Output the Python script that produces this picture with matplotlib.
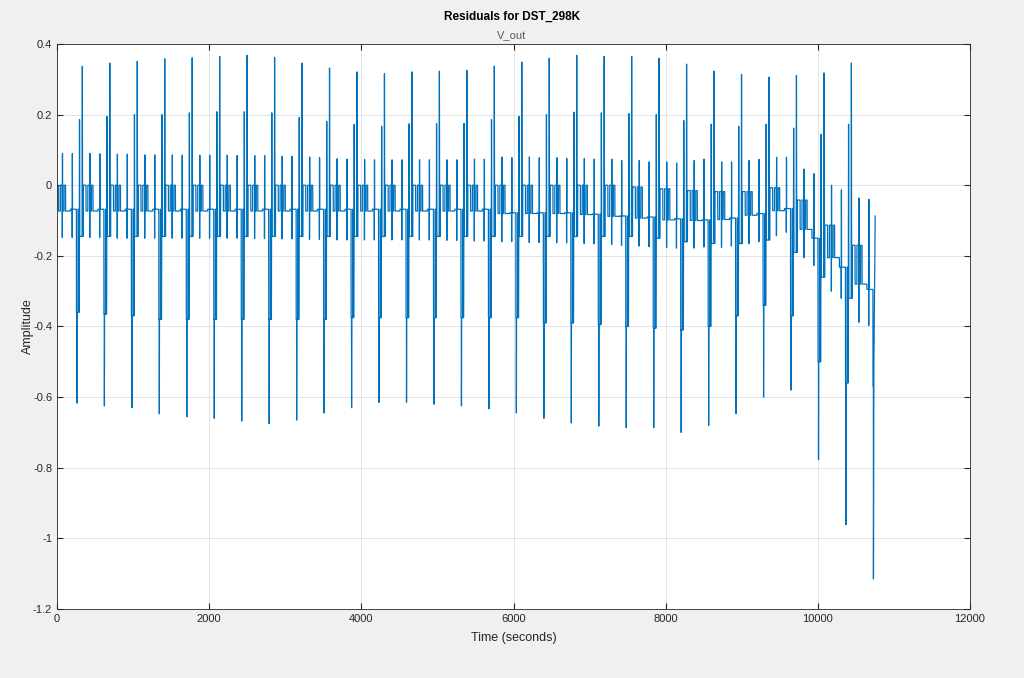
import numpy as np
import matplotlib.pyplot as plt

plt.rcParams['font.family'] = ['Liberation Sans', 'DejaVu Sans']
plt.rcParams['axes.unicode_minus'] = False

# one DST cycle, seconds
period = 361

# per-cycle levels (30 cycles, last one cut short)
top = [0.0] * 21 + [-0.005, -0.01, -0.015, -0.018, -0.018, -0.007, -0.042, -0.113, -0.17]
base_s = [-0.073] * 16 + [-0.08, -0.08, -0.08, -0.083, -0.088, -0.093, -0.098, -0.1,
                          -0.097, -0.085, -0.072, -0.125, -0.205, -0.28]
base_e = [-0.068] * 16 + [-0.078, -0.078, -0.078, -0.082, -0.087, -0.09, -0.095, -0.098,
                          -0.093, -0.08, -0.066, -0.15, -0.232, -0.295]
up1 = [0.09, 0.09, 0.088, 0.086, 0.086, 0.085, 0.085, 0.084, 0.082, 0.08,
       0.075, 0.073, 0.072, 0.072, 0.072, 0.074, 0.08, 0.08, 0.078, 0.076,
       0.074, 0.07, 0.066, 0.07, 0.066, 0.07, 0.079, 0.046, 0.0, -0.036]
up2 = [0.09, 0.089, 0.088, 0.086, 0.085, 0.085, 0.084, 0.084, 0.082, 0.078,
       0.074, 0.072, 0.072, 0.072, 0.072, 0.074, 0.078, 0.078, 0.076, 0.074,
       0.07, 0.066, 0.063, 0.074, 0.066, 0.073, 0.079, 0.033, -0.013, -0.04]
dn1 = [-0.148, -0.148, -0.15, -0.15, -0.15, -0.15, -0.15, -0.151, -0.152, -0.153,
       -0.155, -0.155, -0.155, -0.155, -0.156, -0.158, -0.16, -0.162, -0.163, -0.165,
       -0.168, -0.172, -0.176, -0.178, -0.176, -0.165, -0.143, -0.205, -0.3, -0.388]
dn2 = [-0.148, -0.148, -0.15, -0.15, -0.15, -0.15, -0.15, -0.151, -0.152, -0.153,
       -0.155, -0.155, -0.155, -0.155, -0.156, -0.158, -0.16, -0.162, -0.163, -0.166,
       -0.17, -0.174, -0.178, -0.175, -0.172, -0.16, -0.133, -0.227, -0.32, -0.397]
mid = [-0.36, -0.365, -0.37, -0.38, -0.38, -0.38, -0.38, -0.38, -0.38, -0.38,
       -0.375, -0.375, -0.375, -0.375, -0.375, -0.375, -0.375, -0.39, -0.39, -0.395,
       -0.4, -0.405, -0.41, -0.4, -0.37, -0.34, -0.37, -0.5, -0.56, -0.57]
trough = [-0.617, -0.625, -0.63, -0.647, -0.656, -0.66, -0.668, -0.675, -0.665, -0.645,
          -0.63, -0.615, -0.615, -0.62, -0.625, -0.633, -0.645, -0.66, -0.673, -0.682,
          -0.687, -0.687, -0.70, -0.68, -0.647, -0.60, -0.58, -0.777, -0.961, -1.115]
peak2 = [0.186, 0.195, 0.2, 0.2, 0.205, 0.208, 0.208, 0.205, 0.192, 0.181,
         0.172, 0.167, 0.174, 0.175, 0.175, 0.186, 0.195, 0.2, 0.207, 0.205,
         0.203, 0.2, 0.183, 0.173, 0.167, 0.173, 0.162, 0.144, 0.173]
peak = [0.337, 0.346, 0.351, 0.358, 0.361, 0.365, 0.368, 0.362, 0.346, 0.332,
        0.321, 0.316, 0.321, 0.323, 0.325, 0.337, 0.349, 0.36, 0.368, 0.365,
        0.365, 0.36, 0.343, 0.323, 0.314, 0.306, 0.311, 0.318, 0.346]
mid2 = [-0.145] * 21 + [-0.15, -0.16, -0.165, -0.165, -0.155, -0.19, -0.26, -0.32]
tail = [-0.5, -0.087]  # rise after the last trough, where the record stops

n = len(trough)


def cycle_points(k):
    '''breakpoints (t, v) of cycle k, t relative to cycle start'''
    hi, lo = top[k], base_s[k]
    p = [(0, hi), (20, hi),
         # fast steps between plateau and baseline
         (21, lo), (44, lo), (45, hi),
         (69, hi), (70, dn1[k]), (72, up1[k]), (74, lo),
         (92, lo), (93, hi), (112, hi), (113, lo),
         (175, lo), (176, base_e[k]),
         (199, base_e[k]), (200, dn2[k]), (202, up2[k]), (204, base_e[k]),
         (255, base_e[k]), (256, mid[k]), (261, mid[k]), (262, trough[k])]
    if k == n - 1:
        p += [(268, tail[0]), (285, tail[1])]
        return p
    p += [(264, mid[k]), (276, mid[k]), (277, base_e[k]), (286, base_e[k]),
          (287, mid[k]), (291, mid[k]),
          (296, peak2[k]), (300, mid2[k]), (330, mid2[k]), (333, peak[k]),
          (337, mid2[k]), (344, mid2[k]), (346, top[k + 1]), (period - 1, top[k + 1])]
    return p


t_all, v_all = [], []
for k in range(n):
    for t, v in cycle_points(k):
        t_all.append(k * period + t)
        v_all.append(v)

fig = plt.figure(figsize=(10.24, 6.78), dpi=100, facecolor='#f0f0f0')
ax = fig.add_axes([57 / 1024, 69 / 678, 913 / 1024, 565 / 678])
ax.plot(t_all, v_all, color='#0072BD', lw=0.9)

ax.set_xlim(0, 12000)
ax.set_ylim(-1.2, 0.4)
ax.set_xticks(np.arange(0, 12001, 2000))
ax.set_yticks(np.arange(-1.2, 0.41, 0.2))
ax.set_yticklabels(['-1.2', '-1', '-0.8', '-0.6', '-0.4', '-0.2', '0', '0.2', '0.4'])
ax.grid(True, color='#dedede', lw=0.6)
ax.set_axisbelow(True)
ax.tick_params(direction='in', length=4, labelsize=8, colors='#262626',
               top=True, right=True, labeltop=False, labelright=False)
for s in ax.spines.values():
    s.set_color('#262626')
    s.set_linewidth(0.6)

ax.set_xlabel('Time (seconds)', fontsize=9, color='#262626', labelpad=6)
ax.set_ylabel('Amplitude', fontsize=9, color='#262626', labelpad=-1)
fig.text(0.5, 1 - 17 / 678, 'Residuals for DST_298K', ha='center', va='center',
         fontsize=8.5, fontweight='bold', color='#000000')
fig.text(0.5, 1 - 35 / 678, 'V_out', ha='center', va='center',
         fontsize=8, color='#5a5a5a')

fig.savefig('out.png', dpi=100, facecolor=fig.get_facecolor())
